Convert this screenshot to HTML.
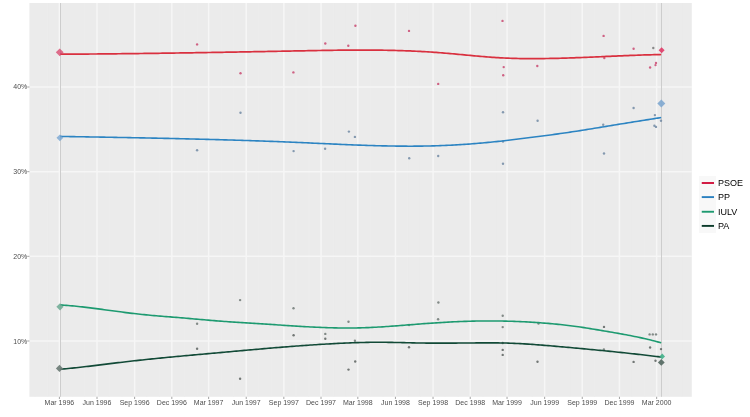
<!DOCTYPE html><html><head><meta charset="utf-8"><style>html,body{margin:0;padding:0;background:#fff;}svg{display:block;filter:blur(0.3px);}text{font-family:"Liberation Sans",Arial,sans-serif;}</style></head><body>
<svg width="750" height="417" viewBox="0 0 750 417">
<rect x="0" y="0" width="750" height="417" fill="#fff"/>
<rect x="29.4" y="3" width="662.4" height="393.8" fill="#EBEBEB"/>
<line x1="34.87" y1="3" x2="34.87" y2="396.8" stroke="#EDEDED" stroke-width="0.6"/>
<line x1="47.54" y1="3" x2="47.54" y2="396.8" stroke="#EDEDED" stroke-width="0.6"/>
<line x1="72.07" y1="3" x2="72.07" y2="396.8" stroke="#EDEDED" stroke-width="0.6"/>
<line x1="84.34" y1="3" x2="84.34" y2="396.8" stroke="#EDEDED" stroke-width="0.6"/>
<line x1="109.27" y1="3" x2="109.27" y2="396.8" stroke="#EDEDED" stroke-width="0.6"/>
<line x1="121.95" y1="3" x2="121.95" y2="396.8" stroke="#EDEDED" stroke-width="0.6"/>
<line x1="146.88" y1="3" x2="146.88" y2="396.8" stroke="#EDEDED" stroke-width="0.6"/>
<line x1="159.56" y1="3" x2="159.56" y2="396.8" stroke="#EDEDED" stroke-width="0.6"/>
<line x1="184.49" y1="3" x2="184.49" y2="396.8" stroke="#EDEDED" stroke-width="0.6"/>
<line x1="197.17" y1="3" x2="197.17" y2="396.8" stroke="#EDEDED" stroke-width="0.6"/>
<line x1="221.28" y1="3" x2="221.28" y2="396.8" stroke="#EDEDED" stroke-width="0.6"/>
<line x1="233.55" y1="3" x2="233.55" y2="396.8" stroke="#EDEDED" stroke-width="0.6"/>
<line x1="258.49" y1="3" x2="258.49" y2="396.8" stroke="#EDEDED" stroke-width="0.6"/>
<line x1="271.16" y1="3" x2="271.16" y2="396.8" stroke="#EDEDED" stroke-width="0.6"/>
<line x1="296.10" y1="3" x2="296.10" y2="396.8" stroke="#EDEDED" stroke-width="0.6"/>
<line x1="308.77" y1="3" x2="308.77" y2="396.8" stroke="#EDEDED" stroke-width="0.6"/>
<line x1="333.70" y1="3" x2="333.70" y2="396.8" stroke="#EDEDED" stroke-width="0.6"/>
<line x1="346.38" y1="3" x2="346.38" y2="396.8" stroke="#EDEDED" stroke-width="0.6"/>
<line x1="370.50" y1="3" x2="370.50" y2="396.8" stroke="#EDEDED" stroke-width="0.6"/>
<line x1="382.76" y1="3" x2="382.76" y2="396.8" stroke="#EDEDED" stroke-width="0.6"/>
<line x1="407.70" y1="3" x2="407.70" y2="396.8" stroke="#EDEDED" stroke-width="0.6"/>
<line x1="420.37" y1="3" x2="420.37" y2="396.8" stroke="#EDEDED" stroke-width="0.6"/>
<line x1="445.31" y1="3" x2="445.31" y2="396.8" stroke="#EDEDED" stroke-width="0.6"/>
<line x1="457.98" y1="3" x2="457.98" y2="396.8" stroke="#EDEDED" stroke-width="0.6"/>
<line x1="482.92" y1="3" x2="482.92" y2="396.8" stroke="#EDEDED" stroke-width="0.6"/>
<line x1="495.59" y1="3" x2="495.59" y2="396.8" stroke="#EDEDED" stroke-width="0.6"/>
<line x1="519.71" y1="3" x2="519.71" y2="396.8" stroke="#EDEDED" stroke-width="0.6"/>
<line x1="531.97" y1="3" x2="531.97" y2="396.8" stroke="#EDEDED" stroke-width="0.6"/>
<line x1="556.91" y1="3" x2="556.91" y2="396.8" stroke="#EDEDED" stroke-width="0.6"/>
<line x1="569.58" y1="3" x2="569.58" y2="396.8" stroke="#EDEDED" stroke-width="0.6"/>
<line x1="594.52" y1="3" x2="594.52" y2="396.8" stroke="#EDEDED" stroke-width="0.6"/>
<line x1="607.19" y1="3" x2="607.19" y2="396.8" stroke="#EDEDED" stroke-width="0.6"/>
<line x1="632.13" y1="3" x2="632.13" y2="396.8" stroke="#EDEDED" stroke-width="0.6"/>
<line x1="644.80" y1="3" x2="644.80" y2="396.8" stroke="#EDEDED" stroke-width="0.6"/>
<line x1="669.33" y1="3" x2="669.33" y2="396.8" stroke="#EDEDED" stroke-width="0.6"/>
<line x1="681.59" y1="3" x2="681.59" y2="396.8" stroke="#EDEDED" stroke-width="0.6"/>
<line x1="29.4" y1="341.00" x2="691.8" y2="341.00" stroke="#F6F6F6" stroke-width="1.5"/>
<line x1="29.4" y1="256.34" x2="691.8" y2="256.34" stroke="#F6F6F6" stroke-width="1.5"/>
<line x1="29.4" y1="171.67" x2="691.8" y2="171.67" stroke="#F6F6F6" stroke-width="1.5"/>
<line x1="29.4" y1="87.00" x2="691.8" y2="87.00" stroke="#F6F6F6" stroke-width="1.5"/>
<line x1="59.40" y1="3" x2="59.40" y2="396.8" stroke="#F6F6F6" stroke-width="1.5"/>
<line x1="97.01" y1="3" x2="97.01" y2="396.8" stroke="#F6F6F6" stroke-width="1.5"/>
<line x1="134.62" y1="3" x2="134.62" y2="396.8" stroke="#F6F6F6" stroke-width="1.5"/>
<line x1="171.82" y1="3" x2="171.82" y2="396.8" stroke="#F6F6F6" stroke-width="1.5"/>
<line x1="208.61" y1="3" x2="208.61" y2="396.8" stroke="#F6F6F6" stroke-width="1.5"/>
<line x1="246.22" y1="3" x2="246.22" y2="396.8" stroke="#F6F6F6" stroke-width="1.5"/>
<line x1="283.83" y1="3" x2="283.83" y2="396.8" stroke="#F6F6F6" stroke-width="1.5"/>
<line x1="321.03" y1="3" x2="321.03" y2="396.8" stroke="#F6F6F6" stroke-width="1.5"/>
<line x1="357.82" y1="3" x2="357.82" y2="396.8" stroke="#F6F6F6" stroke-width="1.5"/>
<line x1="395.43" y1="3" x2="395.43" y2="396.8" stroke="#F6F6F6" stroke-width="1.5"/>
<line x1="433.04" y1="3" x2="433.04" y2="396.8" stroke="#F6F6F6" stroke-width="1.5"/>
<line x1="470.24" y1="3" x2="470.24" y2="396.8" stroke="#F6F6F6" stroke-width="1.5"/>
<line x1="507.04" y1="3" x2="507.04" y2="396.8" stroke="#F6F6F6" stroke-width="1.5"/>
<line x1="544.65" y1="3" x2="544.65" y2="396.8" stroke="#F6F6F6" stroke-width="1.5"/>
<line x1="582.26" y1="3" x2="582.26" y2="396.8" stroke="#F6F6F6" stroke-width="1.5"/>
<line x1="619.46" y1="3" x2="619.46" y2="396.8" stroke="#F6F6F6" stroke-width="1.5"/>
<line x1="656.66" y1="3" x2="656.66" y2="396.8" stroke="#F6F6F6" stroke-width="1.5"/>
<line x1="60.50" y1="3" x2="60.50" y2="396.8" stroke="#CDCDCD" stroke-width="1"/>
<line x1="661.50" y1="3" x2="661.50" y2="396.8" stroke="#CDCDCD" stroke-width="1"/>
<circle cx="197.1" cy="44.4" r="1.2" fill="#C8406A" fill-opacity="0.8"/>
<circle cx="240.5" cy="73.3" r="1.2" fill="#C8406A" fill-opacity="0.8"/>
<circle cx="293.4" cy="72.4" r="1.2" fill="#C8406A" fill-opacity="0.8"/>
<circle cx="325.3" cy="43.5" r="1.2" fill="#C8406A" fill-opacity="0.8"/>
<circle cx="348.3" cy="45.7" r="1.2" fill="#C8406A" fill-opacity="0.8"/>
<circle cx="355.4" cy="25.7" r="1.2" fill="#C8406A" fill-opacity="0.8"/>
<circle cx="409.0" cy="30.9" r="1.2" fill="#C8406A" fill-opacity="0.8"/>
<circle cx="438.2" cy="83.9" r="1.2" fill="#C8406A" fill-opacity="0.8"/>
<circle cx="502.5" cy="20.9" r="1.2" fill="#C8406A" fill-opacity="0.8"/>
<circle cx="503.7" cy="67.1" r="1.2" fill="#C8406A" fill-opacity="0.8"/>
<circle cx="503.2" cy="75.3" r="1.2" fill="#C8406A" fill-opacity="0.8"/>
<circle cx="537.3" cy="66.0" r="1.2" fill="#C8406A" fill-opacity="0.8"/>
<circle cx="603.6" cy="35.9" r="1.2" fill="#C8406A" fill-opacity="0.8"/>
<circle cx="604.3" cy="58.1" r="1.2" fill="#C8406A" fill-opacity="0.8"/>
<circle cx="633.6" cy="48.7" r="1.2" fill="#C8406A" fill-opacity="0.8"/>
<circle cx="650.1" cy="67.5" r="1.2" fill="#C8406A" fill-opacity="0.8"/>
<circle cx="655.5" cy="65.1" r="1.2" fill="#C8406A" fill-opacity="0.8"/>
<circle cx="656.0" cy="62.9" r="1.2" fill="#C8406A" fill-opacity="0.8"/>
<circle cx="653.3" cy="48.0" r="1.2" fill="#707070" fill-opacity="0.8"/>
<circle cx="197.1" cy="150.3" r="1.2" fill="#6A84A0" fill-opacity="0.8"/>
<circle cx="240.5" cy="112.7" r="1.2" fill="#6A84A0" fill-opacity="0.8"/>
<circle cx="293.6" cy="151.1" r="1.2" fill="#6A84A0" fill-opacity="0.8"/>
<circle cx="325.1" cy="148.7" r="1.2" fill="#6A84A0" fill-opacity="0.8"/>
<circle cx="348.9" cy="131.6" r="1.2" fill="#6A84A0" fill-opacity="0.8"/>
<circle cx="354.9" cy="136.9" r="1.2" fill="#6A84A0" fill-opacity="0.8"/>
<circle cx="409.2" cy="158.3" r="1.2" fill="#6A84A0" fill-opacity="0.8"/>
<circle cx="438.2" cy="156" r="1.2" fill="#6A84A0" fill-opacity="0.8"/>
<circle cx="503" cy="112.3" r="1.2" fill="#6A84A0" fill-opacity="0.8"/>
<circle cx="503" cy="141.5" r="1.2" fill="#6A84A0" fill-opacity="0.8"/>
<circle cx="503" cy="163.7" r="1.2" fill="#6A84A0" fill-opacity="0.8"/>
<circle cx="537.6" cy="120.7" r="1.2" fill="#6A84A0" fill-opacity="0.8"/>
<circle cx="603.2" cy="124.7" r="1.2" fill="#6A84A0" fill-opacity="0.8"/>
<circle cx="604" cy="153.5" r="1.2" fill="#6A84A0" fill-opacity="0.8"/>
<circle cx="633.6" cy="108" r="1.2" fill="#6A84A0" fill-opacity="0.8"/>
<circle cx="654.9" cy="115.1" r="1.2" fill="#6A84A0" fill-opacity="0.8"/>
<circle cx="654.4" cy="125.8" r="1.2" fill="#6A84A0" fill-opacity="0.8"/>
<circle cx="656" cy="126.9" r="1.2" fill="#6A84A0" fill-opacity="0.8"/>
<circle cx="661.0" cy="120.8" r="1.2" fill="#6A84A0" fill-opacity="0.8"/>
<circle cx="197.1" cy="323.7" r="1.2" fill="#5F6A66" fill-opacity="0.75"/>
<circle cx="240.1" cy="300.1" r="1.2" fill="#5F6A66" fill-opacity="0.75"/>
<circle cx="293.5" cy="308.2" r="1.2" fill="#5F6A66" fill-opacity="0.75"/>
<circle cx="325.3" cy="333.9" r="1.2" fill="#5F6A66" fill-opacity="0.75"/>
<circle cx="348.5" cy="321.8" r="1.2" fill="#5F6A66" fill-opacity="0.75"/>
<circle cx="354.9" cy="340.8" r="1.2" fill="#5F6A66" fill-opacity="0.75"/>
<circle cx="409.1" cy="325" r="1.2" fill="#5F6A66" fill-opacity="0.75"/>
<circle cx="438.4" cy="302.5" r="1.2" fill="#5F6A66" fill-opacity="0.75"/>
<circle cx="438.1" cy="319.2" r="1.2" fill="#5F6A66" fill-opacity="0.75"/>
<circle cx="502.7" cy="315.7" r="1.2" fill="#5F6A66" fill-opacity="0.75"/>
<circle cx="502.7" cy="327.1" r="1.2" fill="#5F6A66" fill-opacity="0.75"/>
<circle cx="538.5" cy="323.5" r="1.2" fill="#5F6A66" fill-opacity="0.75"/>
<circle cx="603.9" cy="349.5" r="1.2" fill="#5F6A66" fill-opacity="0.75"/>
<circle cx="649.6" cy="334.4" r="1.2" fill="#5F6A66" fill-opacity="0.75"/>
<circle cx="652.8" cy="334.4" r="1.2" fill="#5F6A66" fill-opacity="0.75"/>
<circle cx="656.0" cy="334.4" r="1.2" fill="#5F6A66" fill-opacity="0.75"/>
<circle cx="197.1" cy="348.7" r="1.2" fill="#4A504E" fill-opacity="0.75"/>
<circle cx="240.1" cy="378.7" r="1.2" fill="#4A504E" fill-opacity="0.75"/>
<circle cx="293.6" cy="335.3" r="1.2" fill="#4A504E" fill-opacity="0.75"/>
<circle cx="325.3" cy="338.7" r="1.2" fill="#4A504E" fill-opacity="0.75"/>
<circle cx="348.5" cy="369.6" r="1.2" fill="#4A504E" fill-opacity="0.75"/>
<circle cx="355.2" cy="361.5" r="1.2" fill="#4A504E" fill-opacity="0.75"/>
<circle cx="409.0" cy="347.2" r="1.2" fill="#4A504E" fill-opacity="0.75"/>
<circle cx="502.7" cy="343" r="1.2" fill="#4A504E" fill-opacity="0.75"/>
<circle cx="502.7" cy="349.9" r="1.2" fill="#4A504E" fill-opacity="0.75"/>
<circle cx="502.7" cy="354.9" r="1.2" fill="#4A504E" fill-opacity="0.75"/>
<circle cx="537.5" cy="361.7" r="1.2" fill="#4A504E" fill-opacity="0.75"/>
<circle cx="604.0" cy="326.9" r="1.2" fill="#4A504E" fill-opacity="0.75"/>
<circle cx="633.6" cy="361.9" r="1.2" fill="#4A504E" fill-opacity="0.75"/>
<circle cx="650.1" cy="347.5" r="1.2" fill="#4A504E" fill-opacity="0.75"/>
<circle cx="655.5" cy="360.8" r="1.2" fill="#4A504E" fill-opacity="0.75"/>
<circle cx="661.0" cy="349.1" r="1.2" fill="#4A504E" fill-opacity="0.75"/>
<path d="M60.20,54.22 C60.87,54.22 62.87,54.21 64.20,54.20 C65.53,54.19 66.87,54.18 68.20,54.18 C69.53,54.17 70.87,54.16 72.20,54.15 C73.53,54.15 74.87,54.14 76.20,54.13 C77.53,54.12 78.87,54.11 80.20,54.10 C81.53,54.09 82.87,54.08 84.20,54.07 C85.53,54.06 86.87,54.05 88.20,54.04 C89.53,54.03 90.87,54.02 92.20,54.01 C93.53,54.00 94.87,53.99 96.20,53.98 C97.53,53.96 98.87,53.95 100.20,53.94 C101.53,53.93 102.87,53.92 104.20,53.90 C105.53,53.89 106.87,53.88 108.20,53.87 C109.53,53.85 110.87,53.84 112.20,53.83 C113.53,53.81 114.87,53.80 116.20,53.78 C117.53,53.77 118.87,53.76 120.20,53.74 C121.53,53.73 122.87,53.71 124.20,53.70 C125.53,53.68 126.87,53.67 128.20,53.65 C129.53,53.64 130.87,53.62 132.20,53.61 C133.53,53.59 134.87,53.58 136.20,53.56 C137.53,53.54 138.87,53.53 140.20,53.51 C141.53,53.49 142.87,53.48 144.20,53.46 C145.53,53.44 146.87,53.43 148.20,53.41 C149.53,53.39 150.87,53.37 152.20,53.36 C153.53,53.34 154.87,53.32 156.20,53.30 C157.53,53.29 158.87,53.27 160.20,53.25 C161.53,53.23 162.87,53.21 164.20,53.19 C165.53,53.17 166.87,53.16 168.20,53.14 C169.53,53.12 170.87,53.10 172.20,53.08 C173.53,53.06 174.87,53.04 176.20,53.02 C177.53,53.00 178.87,52.98 180.20,52.96 C181.53,52.94 182.87,52.92 184.20,52.90 C185.53,52.88 186.87,52.86 188.20,52.84 C189.53,52.82 190.87,52.80 192.20,52.78 C193.53,52.75 194.87,52.73 196.20,52.71 C197.53,52.69 198.87,52.67 200.20,52.65 C201.53,52.63 202.87,52.60 204.20,52.58 C205.53,52.56 206.87,52.54 208.20,52.52 C209.53,52.49 210.87,52.47 212.20,52.45 C213.53,52.43 214.87,52.41 216.20,52.38 C217.53,52.36 218.87,52.34 220.20,52.31 C221.53,52.29 222.87,52.27 224.20,52.25 C225.53,52.22 226.87,52.20 228.20,52.18 C229.53,52.15 230.87,52.13 232.20,52.11 C233.53,52.08 234.87,52.06 236.20,52.04 C237.53,52.01 238.87,51.99 240.20,51.97 C241.53,51.94 242.87,51.92 244.20,51.89 C245.53,51.87 246.87,51.85 248.20,51.82 C249.53,51.80 250.87,51.77 252.20,51.75 C253.53,51.73 254.87,51.70 256.20,51.68 C257.53,51.65 258.87,51.63 260.20,51.60 C261.53,51.58 262.87,51.55 264.20,51.53 C265.53,51.51 266.87,51.48 268.20,51.46 C269.53,51.43 270.87,51.41 272.20,51.38 C273.53,51.36 274.87,51.33 276.20,51.31 C277.53,51.28 278.87,51.26 280.20,51.23 C281.53,51.21 282.87,51.18 284.20,51.16 C285.53,51.13 286.87,51.11 288.20,51.08 C289.53,51.06 290.87,51.03 292.20,51.01 C293.53,50.98 294.87,50.96 296.20,50.93 C297.53,50.90 298.87,50.88 300.20,50.85 C301.53,50.83 302.87,50.80 304.20,50.78 C305.53,50.75 306.87,50.73 308.20,50.70 C309.53,50.68 310.87,50.65 312.20,50.63 C313.53,50.60 314.87,50.58 316.20,50.56 C317.53,50.53 318.87,50.51 320.20,50.49 C321.53,50.46 322.87,50.44 324.20,50.42 C325.53,50.40 326.87,50.38 328.20,50.36 C329.53,50.34 330.87,50.32 332.20,50.30 C333.53,50.28 334.87,50.26 336.20,50.25 C337.53,50.23 338.87,50.21 340.20,50.20 C341.53,50.18 342.87,50.17 344.20,50.16 C345.53,50.14 346.87,50.13 348.20,50.12 C349.53,50.11 350.87,50.10 352.20,50.10 C353.53,50.09 354.87,50.08 356.20,50.08 C357.53,50.07 358.87,50.07 360.20,50.07 C361.53,50.07 362.87,50.07 364.20,50.07 C365.53,50.07 366.87,50.07 368.20,50.08 C369.53,50.08 370.87,50.09 372.20,50.10 C373.53,50.11 374.87,50.12 376.20,50.13 C377.53,50.14 378.87,50.16 380.20,50.18 C381.53,50.19 382.87,50.21 384.20,50.23 C385.53,50.26 386.87,50.28 388.20,50.30 C389.53,50.33 390.87,50.36 392.20,50.39 C393.53,50.42 394.87,50.45 396.20,50.49 C397.53,50.52 398.87,50.56 400.20,50.60 C401.53,50.65 402.87,50.69 404.20,50.73 C405.53,50.78 406.87,50.83 408.20,50.88 C409.53,50.93 410.87,50.99 412.20,51.05 C413.53,51.11 414.87,51.17 416.20,51.23 C417.53,51.29 418.87,51.36 420.20,51.43 C421.53,51.50 422.87,51.57 424.20,51.65 C425.53,51.73 426.87,51.81 428.20,51.89 C429.53,51.98 430.87,52.06 432.20,52.15 C433.53,52.24 434.87,52.34 436.20,52.43 C437.53,52.53 438.87,52.63 440.20,52.74 C441.53,52.84 442.87,52.95 444.20,53.06 C445.53,53.17 446.87,53.29 448.20,53.41 C449.53,53.52 450.87,53.64 452.20,53.76 C453.53,53.89 454.87,54.01 456.20,54.13 C457.53,54.26 458.87,54.38 460.20,54.51 C461.53,54.63 462.87,54.76 464.20,54.89 C465.53,55.01 466.87,55.14 468.20,55.27 C469.53,55.39 470.87,55.52 472.20,55.64 C473.53,55.76 474.87,55.89 476.20,56.01 C477.53,56.13 478.87,56.24 480.20,56.36 C481.53,56.48 482.87,56.59 484.20,56.70 C485.53,56.81 486.87,56.91 488.20,57.02 C489.53,57.12 490.87,57.22 492.20,57.31 C493.53,57.41 494.87,57.50 496.20,57.58 C497.53,57.66 498.87,57.74 500.20,57.82 C501.53,57.89 502.87,57.96 504.20,58.02 C505.53,58.08 506.87,58.14 508.20,58.19 C509.53,58.24 510.87,58.29 512.20,58.33 C513.53,58.37 514.87,58.41 516.20,58.44 C517.53,58.48 518.87,58.50 520.20,58.53 C521.53,58.55 522.87,58.57 524.20,58.58 C525.53,58.60 526.87,58.61 528.20,58.62 C529.53,58.63 530.87,58.63 532.20,58.63 C533.53,58.63 534.87,58.63 536.20,58.62 C537.53,58.62 538.87,58.61 540.20,58.59 C541.53,58.58 542.87,58.57 544.20,58.55 C545.53,58.53 546.87,58.51 548.20,58.49 C549.53,58.47 550.87,58.44 552.20,58.42 C553.53,58.39 554.87,58.36 556.20,58.33 C557.53,58.29 558.87,58.26 560.20,58.23 C561.53,58.19 562.87,58.15 564.20,58.11 C565.53,58.07 566.87,58.03 568.20,57.99 C569.53,57.94 570.87,57.90 572.20,57.85 C573.53,57.81 574.87,57.76 576.20,57.71 C577.53,57.66 578.87,57.61 580.20,57.56 C581.53,57.51 582.87,57.46 584.20,57.41 C585.53,57.35 586.87,57.30 588.20,57.24 C589.53,57.19 590.87,57.13 592.20,57.08 C593.53,57.02 594.87,56.96 596.20,56.91 C597.53,56.85 598.87,56.79 600.20,56.73 C601.53,56.68 602.87,56.62 604.20,56.56 C605.53,56.50 606.87,56.44 608.20,56.38 C609.53,56.33 610.87,56.27 612.20,56.21 C613.53,56.15 614.87,56.09 616.20,56.04 C617.53,55.98 618.87,55.92 620.20,55.87 C621.53,55.81 622.87,55.76 624.20,55.70 C625.53,55.65 626.87,55.59 628.20,55.54 C629.53,55.49 630.87,55.43 632.20,55.38 C633.53,55.33 634.87,55.28 636.20,55.23 C637.53,55.19 638.87,55.14 640.20,55.09 C641.53,55.05 642.87,55.00 644.20,54.96 C645.53,54.92 646.87,54.88 648.20,54.84 C649.53,54.80 650.87,54.76 652.20,54.73 C653.53,54.69 654.87,54.66 656.20,54.63 C657.53,54.59 659.37,54.56 660.20,54.54 C661.03,54.52 661.03,54.52 661.20,54.52" fill="none" stroke="#D9303F" stroke-width="1.7" stroke-linecap="butt"/>
<path d="M60.20,136.41 C60.87,136.42 62.87,136.46 64.20,136.48 C65.53,136.50 66.87,136.52 68.20,136.55 C69.53,136.57 70.87,136.59 72.20,136.62 C73.53,136.64 74.87,136.66 76.20,136.68 C77.53,136.71 78.87,136.73 80.20,136.75 C81.53,136.78 82.87,136.80 84.20,136.82 C85.53,136.85 86.87,136.87 88.20,136.89 C89.53,136.91 90.87,136.94 92.20,136.96 C93.53,136.98 94.87,137.01 96.20,137.03 C97.53,137.05 98.87,137.08 100.20,137.10 C101.53,137.12 102.87,137.15 104.20,137.17 C105.53,137.20 106.87,137.22 108.20,137.24 C109.53,137.27 110.87,137.29 112.20,137.31 C113.53,137.34 114.87,137.36 116.20,137.39 C117.53,137.41 118.87,137.44 120.20,137.46 C121.53,137.49 122.87,137.51 124.20,137.53 C125.53,137.56 126.87,137.58 128.20,137.61 C129.53,137.63 130.87,137.66 132.20,137.69 C133.53,137.71 134.87,137.74 136.20,137.76 C137.53,137.79 138.87,137.81 140.20,137.84 C141.53,137.87 142.87,137.89 144.20,137.92 C145.53,137.95 146.87,137.97 148.20,138.00 C149.53,138.03 150.87,138.05 152.20,138.08 C153.53,138.11 154.87,138.14 156.20,138.16 C157.53,138.19 158.87,138.22 160.20,138.25 C161.53,138.28 162.87,138.30 164.20,138.33 C165.53,138.36 166.87,138.39 168.20,138.42 C169.53,138.45 170.87,138.48 172.20,138.51 C173.53,138.54 174.87,138.57 176.20,138.60 C177.53,138.63 178.87,138.66 180.20,138.69 C181.53,138.72 182.87,138.75 184.20,138.78 C185.53,138.82 186.87,138.85 188.20,138.88 C189.53,138.91 190.87,138.94 192.20,138.98 C193.53,139.01 194.87,139.04 196.20,139.08 C197.53,139.11 198.87,139.14 200.20,139.18 C201.53,139.21 202.87,139.25 204.20,139.28 C205.53,139.32 206.87,139.35 208.20,139.39 C209.53,139.42 210.87,139.46 212.20,139.49 C213.53,139.53 214.87,139.57 216.20,139.60 C217.53,139.64 218.87,139.68 220.20,139.72 C221.53,139.75 222.87,139.79 224.20,139.83 C225.53,139.87 226.87,139.91 228.20,139.95 C229.53,139.99 230.87,140.03 232.20,140.07 C233.53,140.11 234.87,140.15 236.20,140.19 C237.53,140.23 238.87,140.27 240.20,140.32 C241.53,140.36 242.87,140.40 244.20,140.44 C245.53,140.49 246.87,140.53 248.20,140.57 C249.53,140.62 250.87,140.66 252.20,140.71 C253.53,140.75 254.87,140.80 256.20,140.84 C257.53,140.89 258.87,140.94 260.20,140.98 C261.53,141.03 262.87,141.08 264.20,141.12 C265.53,141.17 266.87,141.22 268.20,141.27 C269.53,141.32 270.87,141.37 272.20,141.42 C273.53,141.47 274.87,141.52 276.20,141.57 C277.53,141.62 278.87,141.67 280.20,141.72 C281.53,141.78 282.87,141.83 284.20,141.88 C285.53,141.94 286.87,141.99 288.20,142.04 C289.53,142.10 290.87,142.15 292.20,142.21 C293.53,142.26 294.87,142.32 296.20,142.38 C297.53,142.43 298.87,142.49 300.20,142.55 C301.53,142.61 302.87,142.67 304.20,142.73 C305.53,142.78 306.87,142.84 308.20,142.90 C309.53,142.96 310.87,143.02 312.20,143.09 C313.53,143.15 314.87,143.21 316.20,143.27 C317.53,143.33 318.87,143.39 320.20,143.45 C321.53,143.51 322.87,143.57 324.20,143.63 C325.53,143.69 326.87,143.76 328.20,143.82 C329.53,143.88 330.87,143.94 332.20,144.00 C333.53,144.06 334.87,144.12 336.20,144.17 C337.53,144.23 338.87,144.29 340.20,144.35 C341.53,144.41 342.87,144.47 344.20,144.52 C345.53,144.58 346.87,144.63 348.20,144.69 C349.53,144.74 350.87,144.80 352.20,144.85 C353.53,144.91 354.87,144.96 356.20,145.01 C357.53,145.06 358.87,145.11 360.20,145.16 C361.53,145.21 362.87,145.25 364.20,145.30 C365.53,145.35 366.87,145.39 368.20,145.44 C369.53,145.48 370.87,145.52 372.20,145.56 C373.53,145.60 374.87,145.64 376.20,145.68 C377.53,145.71 378.87,145.75 380.20,145.78 C381.53,145.82 382.87,145.85 384.20,145.88 C385.53,145.91 386.87,145.94 388.20,145.96 C389.53,145.99 390.87,146.01 392.20,146.03 C393.53,146.05 394.87,146.07 396.20,146.09 C397.53,146.11 398.87,146.12 400.20,146.13 C401.53,146.15 402.87,146.16 404.20,146.16 C405.53,146.17 406.87,146.18 408.20,146.18 C409.53,146.18 410.87,146.18 412.20,146.18 C413.53,146.17 414.87,146.17 416.20,146.16 C417.53,146.15 418.87,146.14 420.20,146.12 C421.53,146.11 422.87,146.09 424.20,146.07 C425.53,146.05 426.87,146.02 428.20,145.99 C429.53,145.96 430.87,145.93 432.20,145.90 C433.53,145.86 434.87,145.83 436.20,145.79 C437.53,145.74 438.87,145.70 440.20,145.65 C441.53,145.60 442.87,145.55 444.20,145.49 C445.53,145.44 446.87,145.38 448.20,145.32 C449.53,145.25 450.87,145.19 452.20,145.12 C453.53,145.05 454.87,144.97 456.20,144.90 C457.53,144.82 458.87,144.74 460.20,144.66 C461.53,144.57 462.87,144.48 464.20,144.39 C465.53,144.30 466.87,144.21 468.20,144.11 C469.53,144.02 470.87,143.92 472.20,143.81 C473.53,143.71 474.87,143.60 476.20,143.49 C477.53,143.38 478.87,143.27 480.20,143.15 C481.53,143.04 482.87,142.92 484.20,142.79 C485.53,142.67 486.87,142.55 488.20,142.42 C489.53,142.29 490.87,142.16 492.20,142.02 C493.53,141.89 494.87,141.75 496.20,141.61 C497.53,141.47 498.87,141.33 500.20,141.18 C501.53,141.03 502.87,140.89 504.20,140.73 C505.53,140.58 506.87,140.43 508.20,140.27 C509.53,140.12 510.87,139.96 512.20,139.80 C513.53,139.64 514.87,139.47 516.20,139.31 C517.53,139.14 518.87,138.98 520.20,138.81 C521.53,138.64 522.87,138.48 524.20,138.31 C525.53,138.14 526.87,137.97 528.20,137.80 C529.53,137.62 530.87,137.45 532.20,137.28 C533.53,137.11 534.87,136.93 536.20,136.76 C537.53,136.59 538.87,136.42 540.20,136.24 C541.53,136.07 542.87,135.90 544.20,135.72 C545.53,135.55 546.87,135.38 548.20,135.20 C549.53,135.03 550.87,134.85 552.20,134.67 C553.53,134.50 554.87,134.32 556.20,134.14 C557.53,133.95 558.87,133.77 560.20,133.58 C561.53,133.40 562.87,133.21 564.20,133.01 C565.53,132.82 566.87,132.63 568.20,132.43 C569.53,132.23 570.87,132.03 572.20,131.83 C573.53,131.63 574.87,131.42 576.20,131.22 C577.53,131.01 578.87,130.80 580.20,130.60 C581.53,130.39 582.87,130.17 584.20,129.96 C585.53,129.75 586.87,129.54 588.20,129.32 C589.53,129.11 590.87,128.89 592.20,128.67 C593.53,128.46 594.87,128.24 596.20,128.02 C597.53,127.80 598.87,127.58 600.20,127.36 C601.53,127.14 602.87,126.92 604.20,126.70 C605.53,126.48 606.87,126.26 608.20,126.04 C609.53,125.82 610.87,125.60 612.20,125.38 C613.53,125.16 614.87,124.95 616.20,124.73 C617.53,124.51 618.87,124.29 620.20,124.07 C621.53,123.86 622.87,123.64 624.20,123.43 C625.53,123.21 626.87,123.00 628.20,122.78 C629.53,122.57 630.87,122.36 632.20,122.14 C633.53,121.93 634.87,121.72 636.20,121.51 C637.53,121.29 638.87,121.08 640.20,120.87 C641.53,120.66 642.87,120.45 644.20,120.23 C645.53,120.02 646.87,119.81 648.20,119.60 C649.53,119.39 650.87,119.17 652.20,118.96 C653.53,118.75 654.87,118.54 656.20,118.32 C657.53,118.11 659.37,117.82 660.20,117.68 C661.03,117.55 661.03,117.55 661.20,117.52" fill="none" stroke="#2C84C2" stroke-width="1.6" stroke-linecap="butt"/>
<path d="M60.20,304.91 C60.87,304.96 62.87,305.09 64.20,305.19 C65.53,305.29 66.87,305.39 68.20,305.50 C69.53,305.62 70.87,305.74 72.20,305.86 C73.53,305.99 74.87,306.12 76.20,306.26 C77.53,306.39 78.87,306.54 80.20,306.68 C81.53,306.83 82.87,306.98 84.20,307.13 C85.53,307.29 86.87,307.45 88.20,307.61 C89.53,307.77 90.87,307.94 92.20,308.11 C93.53,308.28 94.87,308.45 96.20,308.62 C97.53,308.80 98.87,308.97 100.20,309.15 C101.53,309.33 102.87,309.50 104.20,309.68 C105.53,309.86 106.87,310.04 108.20,310.22 C109.53,310.40 110.87,310.58 112.20,310.76 C113.53,310.94 114.87,311.12 116.20,311.30 C117.53,311.48 118.87,311.66 120.20,311.83 C121.53,312.01 122.87,312.18 124.20,312.35 C125.53,312.53 126.87,312.69 128.20,312.86 C129.53,313.03 130.87,313.19 132.20,313.35 C133.53,313.51 134.87,313.67 136.20,313.82 C137.53,313.97 138.87,314.12 140.20,314.26 C141.53,314.40 142.87,314.54 144.20,314.67 C145.53,314.80 146.87,314.93 148.20,315.06 C149.53,315.19 150.87,315.31 152.20,315.43 C153.53,315.55 154.87,315.66 156.20,315.78 C157.53,315.89 158.87,316.00 160.20,316.11 C161.53,316.22 162.87,316.33 164.20,316.44 C165.53,316.55 166.87,316.65 168.20,316.76 C169.53,316.87 170.87,316.97 172.20,317.08 C173.53,317.19 174.87,317.30 176.20,317.40 C177.53,317.51 178.87,317.62 180.20,317.73 C181.53,317.85 182.87,317.96 184.20,318.07 C185.53,318.19 186.87,318.30 188.20,318.42 C189.53,318.53 190.87,318.65 192.20,318.77 C193.53,318.89 194.87,319.00 196.20,319.12 C197.53,319.24 198.87,319.36 200.20,319.47 C201.53,319.59 202.87,319.71 204.20,319.82 C205.53,319.94 206.87,320.05 208.20,320.17 C209.53,320.28 210.87,320.39 212.20,320.50 C213.53,320.61 214.87,320.72 216.20,320.83 C217.53,320.93 218.87,321.03 220.20,321.14 C221.53,321.24 222.87,321.33 224.20,321.43 C225.53,321.53 226.87,321.62 228.20,321.71 C229.53,321.80 230.87,321.89 232.20,321.98 C233.53,322.07 234.87,322.15 236.20,322.24 C237.53,322.32 238.87,322.41 240.20,322.49 C241.53,322.57 242.87,322.66 244.20,322.74 C245.53,322.82 246.87,322.90 248.20,322.98 C249.53,323.06 250.87,323.15 252.20,323.23 C253.53,323.31 254.87,323.39 256.20,323.48 C257.53,323.56 258.87,323.64 260.20,323.73 C261.53,323.82 262.87,323.90 264.20,323.99 C265.53,324.08 266.87,324.17 268.20,324.26 C269.53,324.34 270.87,324.43 272.20,324.52 C273.53,324.61 274.87,324.70 276.20,324.79 C277.53,324.88 278.87,324.98 280.20,325.07 C281.53,325.16 282.87,325.25 284.20,325.33 C285.53,325.42 286.87,325.51 288.20,325.60 C289.53,325.69 290.87,325.78 292.20,325.86 C293.53,325.95 294.87,326.03 296.20,326.12 C297.53,326.20 298.87,326.28 300.20,326.36 C301.53,326.44 302.87,326.52 304.20,326.60 C305.53,326.67 306.87,326.75 308.20,326.82 C309.53,326.89 310.87,326.96 312.20,327.03 C313.53,327.10 314.87,327.16 316.20,327.23 C317.53,327.29 318.87,327.35 320.20,327.40 C321.53,327.46 322.87,327.51 324.20,327.56 C325.53,327.61 326.87,327.66 328.20,327.70 C329.53,327.74 330.87,327.78 332.20,327.82 C333.53,327.85 334.87,327.88 336.20,327.91 C337.53,327.94 338.87,327.96 340.20,327.98 C341.53,328.00 342.87,328.01 344.20,328.02 C345.53,328.03 346.87,328.03 348.20,328.03 C349.53,328.03 350.87,328.02 352.20,328.01 C353.53,327.99 354.87,327.98 356.20,327.95 C357.53,327.93 358.87,327.90 360.20,327.87 C361.53,327.83 362.87,327.79 364.20,327.74 C365.53,327.70 366.87,327.65 368.20,327.59 C369.53,327.53 370.87,327.47 372.20,327.40 C373.53,327.34 374.87,327.27 376.20,327.19 C377.53,327.12 378.87,327.04 380.20,326.96 C381.53,326.88 382.87,326.79 384.20,326.70 C385.53,326.61 386.87,326.52 388.20,326.43 C389.53,326.33 390.87,326.24 392.20,326.14 C393.53,326.04 394.87,325.94 396.20,325.84 C397.53,325.74 398.87,325.63 400.20,325.53 C401.53,325.43 402.87,325.32 404.20,325.21 C405.53,325.11 406.87,325.00 408.20,324.90 C409.53,324.79 410.87,324.69 412.20,324.58 C413.53,324.48 414.87,324.37 416.20,324.27 C417.53,324.16 418.87,324.06 420.20,323.96 C421.53,323.86 422.87,323.76 424.20,323.66 C425.53,323.56 426.87,323.47 428.20,323.37 C429.53,323.28 430.87,323.19 432.20,323.10 C433.53,323.01 434.87,322.92 436.20,322.83 C437.53,322.75 438.87,322.66 440.20,322.58 C441.53,322.50 442.87,322.42 444.20,322.34 C445.53,322.27 446.87,322.19 448.20,322.12 C449.53,322.05 450.87,321.98 452.20,321.91 C453.53,321.85 454.87,321.78 456.20,321.72 C457.53,321.66 458.87,321.61 460.20,321.55 C461.53,321.50 462.87,321.45 464.20,321.40 C465.53,321.35 466.87,321.31 468.20,321.27 C469.53,321.23 470.87,321.19 472.20,321.16 C473.53,321.12 474.87,321.09 476.20,321.07 C477.53,321.04 478.87,321.02 480.20,321.00 C481.53,320.98 482.87,320.96 484.20,320.95 C485.53,320.94 486.87,320.94 488.20,320.93 C489.53,320.93 490.87,320.93 492.20,320.94 C493.53,320.94 494.87,320.95 496.20,320.96 C497.53,320.98 498.87,320.99 500.20,321.01 C501.53,321.03 502.87,321.06 504.20,321.09 C505.53,321.11 506.87,321.15 508.20,321.18 C509.53,321.22 510.87,321.26 512.20,321.30 C513.53,321.35 514.87,321.39 516.20,321.44 C517.53,321.50 518.87,321.55 520.20,321.61 C521.53,321.67 522.87,321.73 524.20,321.80 C525.53,321.87 526.87,321.94 528.20,322.01 C529.53,322.08 530.87,322.16 532.20,322.24 C533.53,322.33 534.87,322.41 536.20,322.50 C537.53,322.59 538.87,322.68 540.20,322.78 C541.53,322.88 542.87,322.98 544.20,323.08 C545.53,323.19 546.87,323.30 548.20,323.41 C549.53,323.52 550.87,323.64 552.20,323.76 C553.53,323.88 554.87,324.01 556.20,324.14 C557.53,324.27 558.87,324.41 560.20,324.55 C561.53,324.69 562.87,324.83 564.20,324.98 C565.53,325.13 566.87,325.29 568.20,325.45 C569.53,325.61 570.87,325.78 572.20,325.95 C573.53,326.12 574.87,326.30 576.20,326.48 C577.53,326.67 578.87,326.85 580.20,327.05 C581.53,327.24 582.87,327.45 584.20,327.65 C585.53,327.86 586.87,328.07 588.20,328.28 C589.53,328.50 590.87,328.72 592.20,328.94 C593.53,329.16 594.87,329.38 596.20,329.60 C597.53,329.83 598.87,330.05 600.20,330.27 C601.53,330.50 602.87,330.72 604.20,330.95 C605.53,331.17 606.87,331.40 608.20,331.62 C609.53,331.85 610.87,332.08 612.20,332.31 C613.53,332.53 614.87,332.77 616.20,333.00 C617.53,333.23 618.87,333.47 620.20,333.71 C621.53,333.95 622.87,334.19 624.20,334.44 C625.53,334.69 626.87,334.94 628.20,335.19 C629.53,335.45 630.87,335.71 632.20,335.97 C633.53,336.24 634.87,336.51 636.20,336.79 C637.53,337.06 638.87,337.34 640.20,337.63 C641.53,337.92 642.87,338.22 644.20,338.52 C645.53,338.83 646.87,339.14 648.20,339.46 C649.53,339.78 650.87,340.10 652.20,340.44 C653.53,340.77 654.87,341.12 656.20,341.47 C657.53,341.83 659.37,342.33 660.20,342.56 C661.03,342.79 661.03,342.80 661.20,342.84" fill="none" stroke="#1D9A70" stroke-width="1.6" stroke-linecap="butt"/>
<path d="M60.20,369.22 C60.87,369.16 62.87,368.99 64.20,368.87 C65.53,368.76 66.87,368.63 68.20,368.51 C69.53,368.38 70.87,368.25 72.20,368.11 C73.53,367.98 74.87,367.84 76.20,367.69 C77.53,367.55 78.87,367.41 80.20,367.26 C81.53,367.11 82.87,366.96 84.20,366.80 C85.53,366.65 86.87,366.49 88.20,366.34 C89.53,366.18 90.87,366.02 92.20,365.86 C93.53,365.70 94.87,365.53 96.20,365.37 C97.53,365.21 98.87,365.04 100.20,364.88 C101.53,364.71 102.87,364.55 104.20,364.38 C105.53,364.22 106.87,364.05 108.20,363.89 C109.53,363.72 110.87,363.56 112.20,363.39 C113.53,363.23 114.87,363.06 116.20,362.90 C117.53,362.74 118.87,362.58 120.20,362.42 C121.53,362.26 122.87,362.11 124.20,361.95 C125.53,361.79 126.87,361.64 128.20,361.49 C129.53,361.34 130.87,361.19 132.20,361.04 C133.53,360.89 134.87,360.74 136.20,360.59 C137.53,360.45 138.87,360.30 140.20,360.16 C141.53,360.02 142.87,359.88 144.20,359.73 C145.53,359.59 146.87,359.45 148.20,359.32 C149.53,359.18 150.87,359.04 152.20,358.90 C153.53,358.77 154.87,358.63 156.20,358.50 C157.53,358.37 158.87,358.23 160.20,358.10 C161.53,357.97 162.87,357.84 164.20,357.71 C165.53,357.58 166.87,357.45 168.20,357.32 C169.53,357.20 170.87,357.07 172.20,356.94 C173.53,356.81 174.87,356.69 176.20,356.56 C177.53,356.44 178.87,356.31 180.20,356.19 C181.53,356.07 182.87,355.94 184.20,355.82 C185.53,355.70 186.87,355.58 188.20,355.45 C189.53,355.33 190.87,355.21 192.20,355.09 C193.53,354.97 194.87,354.85 196.20,354.73 C197.53,354.61 198.87,354.49 200.20,354.37 C201.53,354.25 202.87,354.13 204.20,354.01 C205.53,353.89 206.87,353.77 208.20,353.65 C209.53,353.53 210.87,353.41 212.20,353.29 C213.53,353.17 214.87,353.05 216.20,352.93 C217.53,352.81 218.87,352.70 220.20,352.58 C221.53,352.46 222.87,352.34 224.20,352.22 C225.53,352.10 226.87,351.98 228.20,351.86 C229.53,351.74 230.87,351.62 232.20,351.50 C233.53,351.38 234.87,351.26 236.20,351.14 C237.53,351.02 238.87,350.90 240.20,350.78 C241.53,350.66 242.87,350.54 244.20,350.42 C245.53,350.30 246.87,350.18 248.20,350.06 C249.53,349.95 250.87,349.83 252.20,349.71 C253.53,349.59 254.87,349.48 256.20,349.36 C257.53,349.24 258.87,349.13 260.20,349.01 C261.53,348.89 262.87,348.78 264.20,348.66 C265.53,348.55 266.87,348.44 268.20,348.32 C269.53,348.21 270.87,348.10 272.20,347.99 C273.53,347.87 274.87,347.76 276.20,347.65 C277.53,347.54 278.87,347.43 280.20,347.33 C281.53,347.22 282.87,347.11 284.20,347.00 C285.53,346.90 286.87,346.79 288.20,346.69 C289.53,346.58 290.87,346.48 292.20,346.38 C293.53,346.28 294.87,346.17 296.20,346.07 C297.53,345.98 298.87,345.88 300.20,345.78 C301.53,345.68 302.87,345.59 304.20,345.49 C305.53,345.40 306.87,345.30 308.20,345.21 C309.53,345.12 310.87,345.03 312.20,344.94 C313.53,344.85 314.87,344.76 316.20,344.68 C317.53,344.59 318.87,344.51 320.20,344.42 C321.53,344.34 322.87,344.26 324.20,344.18 C325.53,344.10 326.87,344.02 328.20,343.95 C329.53,343.87 330.87,343.80 332.20,343.73 C333.53,343.65 334.87,343.58 336.20,343.52 C337.53,343.45 338.87,343.38 340.20,343.32 C341.53,343.25 342.87,343.19 344.20,343.13 C345.53,343.07 346.87,343.01 348.20,342.96 C349.53,342.90 350.87,342.85 352.20,342.80 C353.53,342.75 354.87,342.70 356.20,342.66 C357.53,342.61 358.87,342.57 360.20,342.53 C361.53,342.50 362.87,342.46 364.20,342.43 C365.53,342.40 366.87,342.37 368.20,342.35 C369.53,342.33 370.87,342.31 372.20,342.29 C373.53,342.28 374.87,342.27 376.20,342.26 C377.53,342.26 378.87,342.25 380.20,342.26 C381.53,342.26 382.87,342.27 384.20,342.28 C385.53,342.29 386.87,342.31 388.20,342.33 C389.53,342.34 390.87,342.37 392.20,342.39 C393.53,342.41 394.87,342.44 396.20,342.47 C397.53,342.50 398.87,342.53 400.20,342.56 C401.53,342.59 402.87,342.62 404.20,342.66 C405.53,342.69 406.87,342.72 408.20,342.75 C409.53,342.78 410.87,342.82 412.20,342.85 C413.53,342.88 414.87,342.90 416.20,342.93 C417.53,342.96 418.87,342.98 420.20,343.00 C421.53,343.03 422.87,343.05 424.20,343.06 C425.53,343.08 426.87,343.09 428.20,343.10 C429.53,343.12 430.87,343.12 432.20,343.13 C433.53,343.14 434.87,343.14 436.20,343.15 C437.53,343.15 438.87,343.15 440.20,343.15 C441.53,343.15 442.87,343.15 444.20,343.15 C445.53,343.14 446.87,343.14 448.20,343.13 C449.53,343.13 450.87,343.12 452.20,343.11 C453.53,343.11 454.87,343.10 456.20,343.09 C457.53,343.08 458.87,343.07 460.20,343.06 C461.53,343.05 462.87,343.04 464.20,343.02 C465.53,343.01 466.87,343.00 468.20,342.99 C469.53,342.98 470.87,342.97 472.20,342.95 C473.53,342.94 474.87,342.93 476.20,342.92 C477.53,342.91 478.87,342.90 480.20,342.89 C481.53,342.88 482.87,342.87 484.20,342.86 C485.53,342.86 486.87,342.85 488.20,342.85 C489.53,342.85 490.87,342.85 492.20,342.85 C493.53,342.85 494.87,342.86 496.20,342.87 C497.53,342.89 498.87,342.90 500.20,342.93 C501.53,342.95 502.87,342.98 504.20,343.01 C505.53,343.05 506.87,343.09 508.20,343.13 C509.53,343.18 510.87,343.23 512.20,343.28 C513.53,343.34 514.87,343.40 516.20,343.46 C517.53,343.53 518.87,343.59 520.20,343.67 C521.53,343.74 522.87,343.82 524.20,343.90 C525.53,343.97 526.87,344.06 528.20,344.15 C529.53,344.23 530.87,344.32 532.20,344.42 C533.53,344.51 534.87,344.61 536.20,344.70 C537.53,344.80 538.87,344.90 540.20,345.01 C541.53,345.11 542.87,345.22 544.20,345.33 C545.53,345.43 546.87,345.54 548.20,345.65 C549.53,345.77 550.87,345.88 552.20,345.99 C553.53,346.11 554.87,346.22 556.20,346.34 C557.53,346.45 558.87,346.57 560.20,346.69 C561.53,346.80 562.87,346.92 564.20,347.04 C565.53,347.16 566.87,347.28 568.20,347.39 C569.53,347.51 570.87,347.63 572.20,347.75 C573.53,347.87 574.87,347.99 576.20,348.12 C577.53,348.24 578.87,348.36 580.20,348.48 C581.53,348.61 582.87,348.73 584.20,348.85 C585.53,348.98 586.87,349.10 588.20,349.23 C589.53,349.35 590.87,349.48 592.20,349.61 C593.53,349.73 594.87,349.86 596.20,349.99 C597.53,350.12 598.87,350.25 600.20,350.38 C601.53,350.51 602.87,350.64 604.20,350.77 C605.53,350.90 606.87,351.03 608.20,351.17 C609.53,351.30 610.87,351.44 612.20,351.57 C613.53,351.71 614.87,351.84 616.20,351.98 C617.53,352.12 618.87,352.26 620.20,352.40 C621.53,352.53 622.87,352.67 624.20,352.82 C625.53,352.96 626.87,353.10 628.20,353.24 C629.53,353.39 630.87,353.53 632.20,353.68 C633.53,353.82 634.87,353.97 636.20,354.12 C637.53,354.27 638.87,354.41 640.20,354.57 C641.53,354.72 642.87,354.87 644.20,355.02 C645.53,355.17 646.87,355.33 648.20,355.48 C649.53,355.64 650.87,355.79 652.20,355.95 C653.53,356.11 654.87,356.27 656.20,356.43 C657.53,356.59 659.37,356.81 660.20,356.91 C661.03,357.01 661.03,357.02 661.20,357.04" fill="none" stroke="#124A37" stroke-width="1.6" stroke-linecap="butt"/>
<path d="M59.7,48.4 L63.6,52.3 L59.7,56.2 L55.8,52.3Z" fill="#D84068" fill-opacity="0.75"/>
<path d="M661.6,47.2 L664.6,50.2 L661.6,53.2 L658.6,50.2Z" fill="#E03060" fill-opacity="0.85"/>
<path d="M59.9,134.4 L63.3,137.8 L59.9,141.2 L56.5,137.8Z" fill="#6FA0D0" fill-opacity="0.75"/>
<path d="M661.3,99.4 L665.3,103.4 L661.3,107.4 L657.3,103.4Z" fill="#80A8D0" fill-opacity="0.9"/>
<path d="M60.0,303.2 L63.6,306.8 L60.0,310.4 L56.4,306.8Z" fill="#6AA890" fill-opacity="0.85"/>
<path d="M662.2,353.6 L665.0,356.4 L662.2,359.2 L659.4,356.4Z" fill="#40B088" fill-opacity="0.9"/>
<path d="M59.5,364.8 L63.1,368.4 L59.5,372.0 L55.9,368.4Z" fill="#6A7A74" fill-opacity="0.9"/>
<path d="M661.3,359.0 L664.7,362.4 L661.3,365.8 L657.9,362.4Z" fill="#5A6E66" fill-opacity="0.95"/>
<line x1="59.40" y1="396.8" x2="59.40" y2="399.0" stroke="#666" stroke-width="0.6"/>
<text x="59.40" y="405" font-size="7" fill="#4D4D4D" text-anchor="middle">Mar 1996</text>
<line x1="97.01" y1="396.8" x2="97.01" y2="399.0" stroke="#666" stroke-width="0.6"/>
<text x="97.01" y="405" font-size="7" fill="#4D4D4D" text-anchor="middle">Jun 1996</text>
<line x1="134.62" y1="396.8" x2="134.62" y2="399.0" stroke="#666" stroke-width="0.6"/>
<text x="134.62" y="405" font-size="7" fill="#4D4D4D" text-anchor="middle">Sep 1996</text>
<line x1="171.82" y1="396.8" x2="171.82" y2="399.0" stroke="#666" stroke-width="0.6"/>
<text x="171.82" y="405" font-size="7" fill="#4D4D4D" text-anchor="middle">Dec 1996</text>
<line x1="208.61" y1="396.8" x2="208.61" y2="399.0" stroke="#666" stroke-width="0.6"/>
<text x="208.61" y="405" font-size="7" fill="#4D4D4D" text-anchor="middle">Mar 1997</text>
<line x1="246.22" y1="396.8" x2="246.22" y2="399.0" stroke="#666" stroke-width="0.6"/>
<text x="246.22" y="405" font-size="7" fill="#4D4D4D" text-anchor="middle">Jun 1997</text>
<line x1="283.83" y1="396.8" x2="283.83" y2="399.0" stroke="#666" stroke-width="0.6"/>
<text x="283.83" y="405" font-size="7" fill="#4D4D4D" text-anchor="middle">Sep 1997</text>
<line x1="321.03" y1="396.8" x2="321.03" y2="399.0" stroke="#666" stroke-width="0.6"/>
<text x="321.03" y="405" font-size="7" fill="#4D4D4D" text-anchor="middle">Dec 1997</text>
<line x1="357.82" y1="396.8" x2="357.82" y2="399.0" stroke="#666" stroke-width="0.6"/>
<text x="357.82" y="405" font-size="7" fill="#4D4D4D" text-anchor="middle">Mar 1998</text>
<line x1="395.43" y1="396.8" x2="395.43" y2="399.0" stroke="#666" stroke-width="0.6"/>
<text x="395.43" y="405" font-size="7" fill="#4D4D4D" text-anchor="middle">Jun 1998</text>
<line x1="433.04" y1="396.8" x2="433.04" y2="399.0" stroke="#666" stroke-width="0.6"/>
<text x="433.04" y="405" font-size="7" fill="#4D4D4D" text-anchor="middle">Sep 1998</text>
<line x1="470.24" y1="396.8" x2="470.24" y2="399.0" stroke="#666" stroke-width="0.6"/>
<text x="470.24" y="405" font-size="7" fill="#4D4D4D" text-anchor="middle">Dec 1998</text>
<line x1="507.04" y1="396.8" x2="507.04" y2="399.0" stroke="#666" stroke-width="0.6"/>
<text x="507.04" y="405" font-size="7" fill="#4D4D4D" text-anchor="middle">Mar 1999</text>
<line x1="544.65" y1="396.8" x2="544.65" y2="399.0" stroke="#666" stroke-width="0.6"/>
<text x="544.65" y="405" font-size="7" fill="#4D4D4D" text-anchor="middle">Jun 1999</text>
<line x1="582.26" y1="396.8" x2="582.26" y2="399.0" stroke="#666" stroke-width="0.6"/>
<text x="582.26" y="405" font-size="7" fill="#4D4D4D" text-anchor="middle">Sep 1999</text>
<line x1="619.46" y1="396.8" x2="619.46" y2="399.0" stroke="#666" stroke-width="0.6"/>
<text x="619.46" y="405" font-size="7" fill="#4D4D4D" text-anchor="middle">Dec 1999</text>
<line x1="656.66" y1="396.8" x2="656.66" y2="399.0" stroke="#666" stroke-width="0.6"/>
<text x="656.66" y="405" font-size="7" fill="#4D4D4D" text-anchor="middle">Mar 2000</text>
<line x1="27.2" y1="341.00" x2="29.4" y2="341.00" stroke="#666" stroke-width="0.6"/>
<text x="27.3" y="344" font-size="7" fill="#4D4D4D" text-anchor="end">10%</text>
<line x1="27.2" y1="256.34" x2="29.4" y2="256.34" stroke="#666" stroke-width="0.6"/>
<text x="27.3" y="259" font-size="7" fill="#4D4D4D" text-anchor="end">20%</text>
<line x1="27.2" y1="171.67" x2="29.4" y2="171.67" stroke="#666" stroke-width="0.6"/>
<text x="27.3" y="174" font-size="7" fill="#4D4D4D" text-anchor="end">30%</text>
<line x1="27.2" y1="87.00" x2="29.4" y2="87.00" stroke="#666" stroke-width="0.6"/>
<text x="27.3" y="89" font-size="7" fill="#4D4D4D" text-anchor="end">40%</text>
<rect x="699" y="176" width="17" height="57" fill="#F8F8F8"/>
<line x1="701.75" y1="183" x2="714" y2="183" stroke="#D0103A" stroke-width="1.9"/>
<text x="718" y="186.10" font-size="9" fill="#000">PSOE</text>
<line x1="701.75" y1="197.1" x2="714" y2="197.1" stroke="#2A80C0" stroke-width="1.9"/>
<text x="718" y="200.20" font-size="9" fill="#000">PP</text>
<line x1="701.75" y1="211.75" x2="714" y2="211.75" stroke="#1E9A70" stroke-width="1.9"/>
<text x="718" y="214.85" font-size="9" fill="#000">IULV</text>
<line x1="701.75" y1="225.9" x2="714" y2="225.9" stroke="#0B3A2A" stroke-width="1.9"/>
<text x="718" y="229.00" font-size="9" fill="#000">PA</text>
</svg></body></html>
